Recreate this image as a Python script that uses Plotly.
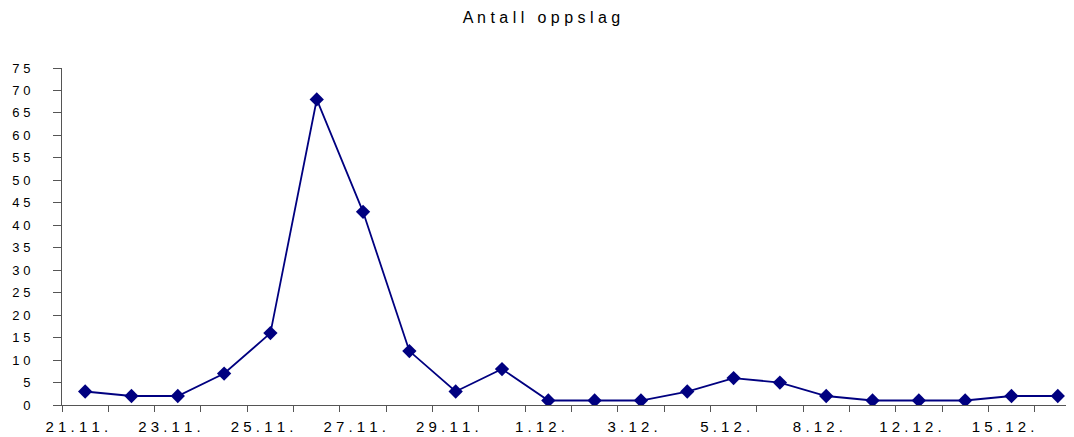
import plotly.graph_objects as go

dates = ["21.11.", "22.11.", "23.11.", "24.11.", "25.11.", "26.11.", "27.11.", "28.11.",
         "29.11.", "30.11.", "1.12.", "2.12.", "3.12.", "4.12.", "5.12.", "7.12.",
         "8.12.", "10.12.", "12.12.", "14.12.", "15.12.", "16.12."]
oppslag = [3, 2, 2, 7, 16, 68, 43, 12, 3, 8, 1, 1, 1, 3, 6, 5, 2, 1, 1, 1, 2, 2]
yticks = list(range(0, 80, 5))
title_text = "Antall oppslag"


def spaced(s):
    return " ".join(list(s))


NB = "\u00a0"
ticktext = [spaced(d) + NB * 4 if i % 2 == 0 else "" for i, d in enumerate(dates)]

fig = go.Figure()
fig.add_trace(go.Scatter(
    x=dates, y=oppslag, mode="lines+markers",
    line=dict(color="#000080", width=1.8),
    marker=dict(symbol="diamond", size=11, color="#000080"),
))

font_family = "Liberation Sans, Arial, sans-serif"
# the page body has an 8px margin, so the figure is sized/offset to compensate
fig.update_layout(
    width=1066, height=429,
    margin=dict(l=54, r=0, t=60, b=32),
    paper_bgcolor="white", plot_bgcolor="white",
    showlegend=False,
    font=dict(family=font_family, size=14, color="black"),
    title=dict(text=(NB * 3).join(spaced(w) for w in title_text.split(" ")),
               x=0.5005, xref="container", xanchor="center",
               y=0.977, yref="container", yanchor="middle",
               font=dict(size=16, family=font_family, color="black")),
    xaxis=dict(
        type="category", range=[-0.5, 21.35], automargin=False,
        tickmode="array", tickvals=dates, ticktext=ticktext,
        tickson="boundaries", ticks="outside", ticklen=6, tickcolor="#555",
        showline=True, linecolor="#555", linewidth=1,
        showgrid=False, zeroline=False, tickangle=0,
        ticklabelstandoff=8, tickfont=dict(size=15),
    ),
    yaxis=dict(
        range=[0, 75], tickmode="array", tickvals=yticks, automargin=False,
        ticktext=[spaced(str(v)) for v in yticks],
        ticks="outside", ticklen=8, tickcolor="#555",
        showline=True, linecolor="#555", linewidth=1,
        showgrid=False, zeroline=False,
        ticklabelstandoff=20, tickfont=dict(size=13),
    ),
)

fig.write_html("out.html")
